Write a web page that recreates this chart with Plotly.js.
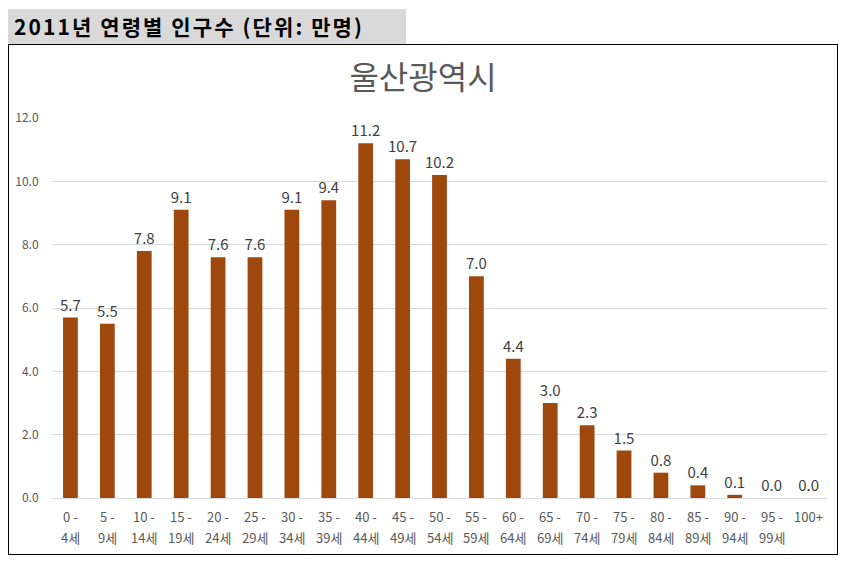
<!DOCTYPE html>
<html>
<head>
<meta charset="utf-8">
<script src="https://cdn.plot.ly/plotly-3.0.1.min.js"></script>
<style>
  body { margin: 0; background: #fff; font-family: "Noto Sans CJK KR", sans-serif; }
  #header {
    position: absolute; left: 8px; top: 9px; width: 398px; height: 35px;
    background: #d9d9d9; font-weight: bold; font-size: 21px; line-height: 35px;
    letter-spacing: 2.1px; padding-left: 6px; box-sizing: border-box; color: #000;
  }
  #box {
    position: absolute; left: 8px; top: 44px; width: 830px; height: 511px;
    border: 1px solid #000; box-sizing: border-box;
  }
  #chart { width: 828px; height: 509px; }
</style>
</head>
<body>
<div id="header">2011년 연령별 인구수 (단위: 만명)</div>
<div id="box"><div id="chart"></div></div>
<script>
var ageGroups = ['0-4', '5-9', '10-14', '15-19', '20-24', '25-29', '30-34', '35-39',
  '40-44', '45-49', '50-54', '55-59', '60-64', '65-69', '70-74', '75-79', '80-84',
  '85-89', '90-94', '95-99', '100+'];
var labelTop = ['0 -', '5 -', '10 -', '15 -', '20 -', '25 -', '30 -', '35 -', '40 -',
  '45 -', '50 -', '55 -', '60 -', '65 -', '70 -', '75 -', '80 -', '85 -', '90 -', '95 -', '100+'];
var labelBottom = ['4세', '9세', '14세', '19세', '24세', '29세', '34세', '39세', '44세',
  '49세', '54세', '59세', '64세', '69세', '74세', '79세', '84세', '89세', '94세', '99세', ''];
var population = [5.7, 5.5, 7.8, 9.1, 7.6, 7.6, 9.1, 9.4, 11.2, 10.7, 10.2,
  7.0, 4.4, 3.0, 2.3, 1.5, 0.8, 0.4, 0.1, 0.0, 0.0];

var font = 'Noto Sans CJK KR, sans-serif';
var tickFont = { family: font, size: 13, color: '#595959' };

// two-line category labels, placed under each bar
var annotations = [];
ageGroups.forEach(function (g, i) {
  annotations.push({ x: g, xref: 'x', y: 0, yref: 'paper', yanchor: 'middle',
    yshift: -18, text: labelTop[i], showarrow: false, font: tickFont });
  if (labelBottom[i]) {
    annotations.push({ x: g, xref: 'x', y: 0, yref: 'paper', yanchor: 'middle',
      yshift: -39, text: labelBottom[i], showarrow: false, font: tickFont });
  }
});

Plotly.newPlot('chart', [{
  type: 'bar',
  x: ageGroups,
  y: population,
  marker: { color: '#9e480e' },
  text: population.map(function (v) { return v.toFixed(1); }),
  textposition: 'outside',
  constraintext: 'none',
  textfont: { family: font, size: 15, color: '#404040' },
  cliponaxis: false,
  hoverinfo: 'none'
}], {
  width: 828,
  height: 509,
  margin: { l: 42.5, r: 9.5, t: 73, b: 56 },
  paper_bgcolor: '#fff',
  plot_bgcolor: '#fff',
  bargap: 0.6,
  showlegend: false,
  title: {
    text: '울산광역시',
    font: { family: font, size: 32, color: '#595959' },
    x: 0.5, xanchor: 'center',
    y: 1 - 33 / 509, yanchor: 'middle'
  },
  annotations: annotations,
  xaxis: {
    type: 'category',
    showticklabels: false,
    showline: false, showgrid: false, fixedrange: true
  },
  yaxis: {
    range: [0, 12],
    dtick: 2,
    tickformat: '.1f',
    tickfont: { family: font, size: 12, color: '#595959' },
    ticks: 'outside', ticklen: 10, tickcolor: 'rgba(0,0,0,0)',
    gridcolor: '#d9d9d9',
    zeroline: true, zerolinecolor: '#d9d9d9', zerolinewidth: 1,
    showline: false, fixedrange: true
  }
}, { displayModeBar: false, staticPlot: true });
</script>
</body>
</html>
